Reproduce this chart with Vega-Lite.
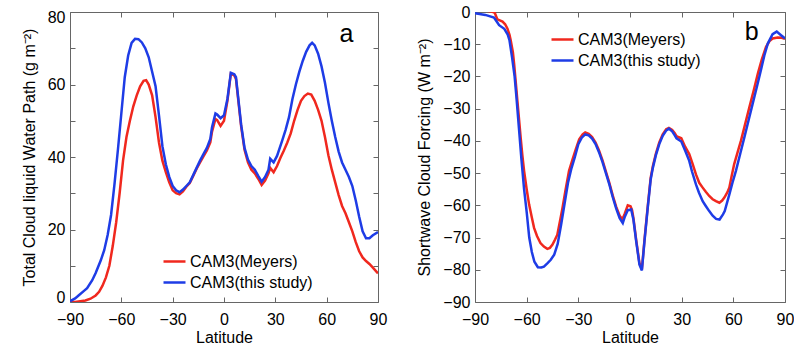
{
 "$schema": "https://vega.github.io/schema/vega-lite/v6.json",
 "padding": {"left": 20, "top": 3, "right": 0, "bottom": 0},
 "spacing": 28,
 "config": {
  "font": "Liberation Sans",
  "view": {"stroke": "#666", "strokeWidth": 1},
  "axis": {"grid": false, "domain": false, "tickColor": "#666", "tickSize": -5, "labelFontSize": 16, "titleFontSize": 16, "titleFontWeight": "normal", "labelColor": "#000", "titleColor": "#000", "labelPadding": 10, "labelFlush": false, "labelOverlap": false},
  "axisBottom": {"labelPadding": 14},
  "legend": {"orient": "none", "title": null, "symbolType": "stroke", "symbolSize": 484, "symbolStrokeWidth": 2.5, "labelFontSize": 16, "labelOffset": 3, "rowPadding": -8}
 },
 "resolve": {"scale": {"color": "independent"}, "legend": {"color": "independent"}},
 "hconcat": [
  {
   "width": 308, "height": 290,
   "layer": [
    {
     "data": {"values": [
      {"lat": -90, "v": 0, "s": "CAM3(Meyers)"},
      {"lat": -87, "v": 0, "s": "CAM3(Meyers)"},
      {"lat": -84, "v": 0.2, "s": "CAM3(Meyers)"},
      {"lat": -81, "v": 0.4, "s": "CAM3(Meyers)"},
      {"lat": -78, "v": 0.9, "s": "CAM3(Meyers)"},
      {"lat": -75, "v": 1.8, "s": "CAM3(Meyers)"},
      {"lat": -73, "v": 2.8, "s": "CAM3(Meyers)"},
      {"lat": -71, "v": 4.5, "s": "CAM3(Meyers)"},
      {"lat": -69, "v": 6.8, "s": "CAM3(Meyers)"},
      {"lat": -67, "v": 10, "s": "CAM3(Meyers)"},
      {"lat": -65, "v": 15.5, "s": "CAM3(Meyers)"},
      {"lat": -63, "v": 22, "s": "CAM3(Meyers)"},
      {"lat": -61, "v": 30, "s": "CAM3(Meyers)"},
      {"lat": -59, "v": 39, "s": "CAM3(Meyers)"},
      {"lat": -57, "v": 45.5, "s": "CAM3(Meyers)"},
      {"lat": -55, "v": 50, "s": "CAM3(Meyers)"},
      {"lat": -53, "v": 54, "s": "CAM3(Meyers)"},
      {"lat": -51, "v": 57, "s": "CAM3(Meyers)"},
      {"lat": -49, "v": 59.5, "s": "CAM3(Meyers)"},
      {"lat": -47, "v": 61, "s": "CAM3(Meyers)"},
      {"lat": -45.5, "v": 61.2, "s": "CAM3(Meyers)"},
      {"lat": -44, "v": 60, "s": "CAM3(Meyers)"},
      {"lat": -42, "v": 57, "s": "CAM3(Meyers)"},
      {"lat": -40, "v": 51, "s": "CAM3(Meyers)"},
      {"lat": -38, "v": 44, "s": "CAM3(Meyers)"},
      {"lat": -36, "v": 39, "s": "CAM3(Meyers)"},
      {"lat": -34, "v": 35.8, "s": "CAM3(Meyers)"},
      {"lat": -32, "v": 33, "s": "CAM3(Meyers)"},
      {"lat": -30, "v": 30.8, "s": "CAM3(Meyers)"},
      {"lat": -28, "v": 30, "s": "CAM3(Meyers)"},
      {"lat": -26, "v": 29.7, "s": "CAM3(Meyers)"},
      {"lat": -24, "v": 30.5, "s": "CAM3(Meyers)"},
      {"lat": -22, "v": 31.8, "s": "CAM3(Meyers)"},
      {"lat": -20, "v": 32.8, "s": "CAM3(Meyers)"},
      {"lat": -18, "v": 34.8, "s": "CAM3(Meyers)"},
      {"lat": -16, "v": 36.8, "s": "CAM3(Meyers)"},
      {"lat": -14, "v": 38.5, "s": "CAM3(Meyers)"},
      {"lat": -12, "v": 40.2, "s": "CAM3(Meyers)"},
      {"lat": -10, "v": 41.8, "s": "CAM3(Meyers)"},
      {"lat": -8, "v": 44, "s": "CAM3(Meyers)"},
      {"lat": -7, "v": 47, "s": "CAM3(Meyers)"},
      {"lat": -5, "v": 50.5, "s": "CAM3(Meyers)"},
      {"lat": -4, "v": 50.2, "s": "CAM3(Meyers)"},
      {"lat": -2, "v": 48.6, "s": "CAM3(Meyers)"},
      {"lat": 0, "v": 50, "s": "CAM3(Meyers)"},
      {"lat": 2, "v": 55.5, "s": "CAM3(Meyers)"},
      {"lat": 4, "v": 63, "s": "CAM3(Meyers)"},
      {"lat": 6, "v": 62.5, "s": "CAM3(Meyers)"},
      {"lat": 7, "v": 61.5, "s": "CAM3(Meyers)"},
      {"lat": 8.5, "v": 55, "s": "CAM3(Meyers)"},
      {"lat": 10, "v": 48.5, "s": "CAM3(Meyers)"},
      {"lat": 12, "v": 42, "s": "CAM3(Meyers)"},
      {"lat": 14, "v": 38.5, "s": "CAM3(Meyers)"},
      {"lat": 16, "v": 36.5, "s": "CAM3(Meyers)"},
      {"lat": 18, "v": 35.5, "s": "CAM3(Meyers)"},
      {"lat": 20, "v": 34, "s": "CAM3(Meyers)"},
      {"lat": 22, "v": 32.3, "s": "CAM3(Meyers)"},
      {"lat": 24, "v": 33.5, "s": "CAM3(Meyers)"},
      {"lat": 26, "v": 35.5, "s": "CAM3(Meyers)"},
      {"lat": 27, "v": 37, "s": "CAM3(Meyers)"},
      {"lat": 29, "v": 35.8, "s": "CAM3(Meyers)"},
      {"lat": 31, "v": 37.5, "s": "CAM3(Meyers)"},
      {"lat": 33, "v": 39.8, "s": "CAM3(Meyers)"},
      {"lat": 35, "v": 41.8, "s": "CAM3(Meyers)"},
      {"lat": 37, "v": 44, "s": "CAM3(Meyers)"},
      {"lat": 39, "v": 46.5, "s": "CAM3(Meyers)"},
      {"lat": 41, "v": 50, "s": "CAM3(Meyers)"},
      {"lat": 43, "v": 53, "s": "CAM3(Meyers)"},
      {"lat": 45, "v": 55.5, "s": "CAM3(Meyers)"},
      {"lat": 47, "v": 56.8, "s": "CAM3(Meyers)"},
      {"lat": 49, "v": 57.5, "s": "CAM3(Meyers)"},
      {"lat": 51, "v": 57.2, "s": "CAM3(Meyers)"},
      {"lat": 53, "v": 55.5, "s": "CAM3(Meyers)"},
      {"lat": 55, "v": 53, "s": "CAM3(Meyers)"},
      {"lat": 57, "v": 50, "s": "CAM3(Meyers)"},
      {"lat": 59, "v": 45.5, "s": "CAM3(Meyers)"},
      {"lat": 61, "v": 40.5, "s": "CAM3(Meyers)"},
      {"lat": 63, "v": 36.5, "s": "CAM3(Meyers)"},
      {"lat": 65, "v": 33, "s": "CAM3(Meyers)"},
      {"lat": 67, "v": 29.5, "s": "CAM3(Meyers)"},
      {"lat": 69, "v": 26.5, "s": "CAM3(Meyers)"},
      {"lat": 71, "v": 24.5, "s": "CAM3(Meyers)"},
      {"lat": 73, "v": 22, "s": "CAM3(Meyers)"},
      {"lat": 75, "v": 19.5, "s": "CAM3(Meyers)"},
      {"lat": 77, "v": 16.5, "s": "CAM3(Meyers)"},
      {"lat": 79, "v": 14, "s": "CAM3(Meyers)"},
      {"lat": 81, "v": 12.3, "s": "CAM3(Meyers)"},
      {"lat": 83, "v": 11.3, "s": "CAM3(Meyers)"},
      {"lat": 85, "v": 10.5, "s": "CAM3(Meyers)"},
      {"lat": 87, "v": 9.5, "s": "CAM3(Meyers)"},
      {"lat": 90, "v": 7.9, "s": "CAM3(Meyers)"},
      {"lat": -90, "v": 0.2, "s": "CAM3(this study)"},
      {"lat": -87, "v": 1, "s": "CAM3(this study)"},
      {"lat": -85, "v": 1.8, "s": "CAM3(this study)"},
      {"lat": -82, "v": 3, "s": "CAM3(this study)"},
      {"lat": -80, "v": 3.8, "s": "CAM3(this study)"},
      {"lat": -77, "v": 6, "s": "CAM3(this study)"},
      {"lat": -75, "v": 8, "s": "CAM3(this study)"},
      {"lat": -72, "v": 11.5, "s": "CAM3(this study)"},
      {"lat": -70, "v": 14.3, "s": "CAM3(this study)"},
      {"lat": -68, "v": 18.5, "s": "CAM3(this study)"},
      {"lat": -66, "v": 24, "s": "CAM3(this study)"},
      {"lat": -64, "v": 32.5, "s": "CAM3(this study)"},
      {"lat": -62, "v": 42, "s": "CAM3(this study)"},
      {"lat": -60, "v": 52, "s": "CAM3(this study)"},
      {"lat": -58, "v": 62, "s": "CAM3(this study)"},
      {"lat": -56, "v": 68, "s": "CAM3(this study)"},
      {"lat": -54, "v": 71.5, "s": "CAM3(this study)"},
      {"lat": -52, "v": 72.6, "s": "CAM3(this study)"},
      {"lat": -50, "v": 72.5, "s": "CAM3(this study)"},
      {"lat": -48, "v": 71.6, "s": "CAM3(this study)"},
      {"lat": -46, "v": 70, "s": "CAM3(this study)"},
      {"lat": -44, "v": 67.5, "s": "CAM3(this study)"},
      {"lat": -42, "v": 63.5, "s": "CAM3(this study)"},
      {"lat": -40, "v": 59.5, "s": "CAM3(this study)"},
      {"lat": -38, "v": 51.5, "s": "CAM3(this study)"},
      {"lat": -36, "v": 43, "s": "CAM3(this study)"},
      {"lat": -34, "v": 38, "s": "CAM3(this study)"},
      {"lat": -32, "v": 34.5, "s": "CAM3(this study)"},
      {"lat": -30, "v": 32, "s": "CAM3(this study)"},
      {"lat": -28, "v": 30.8, "s": "CAM3(this study)"},
      {"lat": -26, "v": 30.3, "s": "CAM3(this study)"},
      {"lat": -24, "v": 31, "s": "CAM3(this study)"},
      {"lat": -22, "v": 32, "s": "CAM3(this study)"},
      {"lat": -20, "v": 33, "s": "CAM3(this study)"},
      {"lat": -18, "v": 35, "s": "CAM3(this study)"},
      {"lat": -16, "v": 37, "s": "CAM3(this study)"},
      {"lat": -14, "v": 39, "s": "CAM3(this study)"},
      {"lat": -12, "v": 40.8, "s": "CAM3(this study)"},
      {"lat": -10, "v": 42.5, "s": "CAM3(this study)"},
      {"lat": -8, "v": 45, "s": "CAM3(this study)"},
      {"lat": -7, "v": 48.2, "s": "CAM3(this study)"},
      {"lat": -5, "v": 52, "s": "CAM3(this study)"},
      {"lat": -4, "v": 51.7, "s": "CAM3(this study)"},
      {"lat": -2, "v": 50.7, "s": "CAM3(this study)"},
      {"lat": 0, "v": 51.5, "s": "CAM3(this study)"},
      {"lat": 2, "v": 56, "s": "CAM3(this study)"},
      {"lat": 4, "v": 63.2, "s": "CAM3(this study)"},
      {"lat": 6, "v": 62.8, "s": "CAM3(this study)"},
      {"lat": 7, "v": 62, "s": "CAM3(this study)"},
      {"lat": 8.5, "v": 55.5, "s": "CAM3(this study)"},
      {"lat": 10, "v": 49, "s": "CAM3(this study)"},
      {"lat": 12, "v": 42.5, "s": "CAM3(this study)"},
      {"lat": 14, "v": 39.3, "s": "CAM3(this study)"},
      {"lat": 16, "v": 37.5, "s": "CAM3(this study)"},
      {"lat": 18, "v": 36.5, "s": "CAM3(this study)"},
      {"lat": 20, "v": 34.8, "s": "CAM3(this study)"},
      {"lat": 22, "v": 33.2, "s": "CAM3(this study)"},
      {"lat": 24, "v": 34.5, "s": "CAM3(this study)"},
      {"lat": 26, "v": 36.5, "s": "CAM3(this study)"},
      {"lat": 27, "v": 39.5, "s": "CAM3(this study)"},
      {"lat": 29, "v": 38.5, "s": "CAM3(this study)"},
      {"lat": 31, "v": 40.3, "s": "CAM3(this study)"},
      {"lat": 34, "v": 44.5, "s": "CAM3(this study)"},
      {"lat": 36, "v": 47.5, "s": "CAM3(this study)"},
      {"lat": 38, "v": 51, "s": "CAM3(this study)"},
      {"lat": 40, "v": 56, "s": "CAM3(this study)"},
      {"lat": 42, "v": 60, "s": "CAM3(this study)"},
      {"lat": 44, "v": 63.5, "s": "CAM3(this study)"},
      {"lat": 46, "v": 66.5, "s": "CAM3(this study)"},
      {"lat": 48, "v": 69, "s": "CAM3(this study)"},
      {"lat": 50, "v": 70.8, "s": "CAM3(this study)"},
      {"lat": 51.5, "v": 71.5, "s": "CAM3(this study)"},
      {"lat": 53, "v": 70.8, "s": "CAM3(this study)"},
      {"lat": 55, "v": 68.5, "s": "CAM3(this study)"},
      {"lat": 57, "v": 65, "s": "CAM3(this study)"},
      {"lat": 59, "v": 60.5, "s": "CAM3(this study)"},
      {"lat": 61, "v": 55, "s": "CAM3(this study)"},
      {"lat": 63, "v": 50, "s": "CAM3(this study)"},
      {"lat": 65, "v": 45.5, "s": "CAM3(this study)"},
      {"lat": 67, "v": 41.5, "s": "CAM3(this study)"},
      {"lat": 69, "v": 38.5, "s": "CAM3(this study)"},
      {"lat": 71, "v": 36.5, "s": "CAM3(this study)"},
      {"lat": 73, "v": 34.5, "s": "CAM3(this study)"},
      {"lat": 75, "v": 32, "s": "CAM3(this study)"},
      {"lat": 77, "v": 28, "s": "CAM3(this study)"},
      {"lat": 79, "v": 23.5, "s": "CAM3(this study)"},
      {"lat": 81, "v": 19.5, "s": "CAM3(this study)"},
      {"lat": 83, "v": 17.6, "s": "CAM3(this study)"},
      {"lat": 85, "v": 17.6, "s": "CAM3(this study)"},
      {"lat": 87, "v": 18.4, "s": "CAM3(this study)"},
      {"lat": 90, "v": 19.3, "s": "CAM3(this study)"}
     ]},
     "mark": {"type": "line", "strokeWidth": 2.5, "clip": true},
     "encoding": {
      "x": {"field": "lat", "type": "quantitative", "scale": {"domain": [-90, 90], "nice": false}, "axis": {"values": [-90, -60, -30, 0, 30, 60, 90], "title": "Latitude", "titlePadding": 2}},
      "y": {"field": "v", "type": "quantitative", "scale": {"domain": [0, 80], "nice": false}, "axis": {"values": [0, 10, 20, 30, 40, 50, 60, 70, 80], "labelExpr": "datum.value % 20 === 0 ? datum.label : ''", "labelFlush": true, "labelFlushOffset": 3, "title": "Total Cloud liquid Water Path (g m⁻²)", "titlePadding": 10}},
      "color": {"field": "s", "type": "nominal", "scale": {"domain": ["CAM3(Meyers)", "CAM3(this study)"], "range": ["#f0281e", "#1e3ce6"]}, "legend": {"legendX": 92, "legendY": 237}}
     }
    },
    {
     "data": {"values": [{"t": "a"}]},
     "mark": {"type": "text", "fontSize": 25, "align": "center", "baseline": "middle"},
     "encoding": {
      "x": {"datum": 71.5, "type": "quantitative", "scale": {"domain": [-90, 90], "nice": false}, "axis": {"orient": "top", "labels": false, "title": null, "values": [-90, -60, -30, 0, 30, 60, 90]}},
      "y": {"datum": 74, "type": "quantitative", "scale": {"domain": [0, 80], "nice": false}, "axis": {"orient": "right", "labels": false, "title": null, "values": [0, 10, 20, 30, 40, 50, 60, 70, 80]}},
      "text": {"field": "t"}
     }
    }
   ],
   "resolve": {"axis": {"x": "independent", "y": "independent"}}
  },
  {
   "width": 310, "height": 290,
   "layer": [
    {
     "data": {"values": [
      {"lat": -90, "v": 0.5, "s": "CAM3(Meyers)"},
      {"lat": -84, "v": 0.5, "s": "CAM3(Meyers)"},
      {"lat": -79.5, "v": 0, "s": "CAM3(Meyers)"},
      {"lat": -78.5, "v": -0.3, "s": "CAM3(Meyers)"},
      {"lat": -77, "v": -2.3, "s": "CAM3(Meyers)"},
      {"lat": -74, "v": -3, "s": "CAM3(Meyers)"},
      {"lat": -72.5, "v": -3.8, "s": "CAM3(Meyers)"},
      {"lat": -71.2, "v": -5.1, "s": "CAM3(Meyers)"},
      {"lat": -70, "v": -7, "s": "CAM3(Meyers)"},
      {"lat": -69.3, "v": -8.7, "s": "CAM3(Meyers)"},
      {"lat": -68, "v": -12.5, "s": "CAM3(Meyers)"},
      {"lat": -67.3, "v": -16, "s": "CAM3(Meyers)"},
      {"lat": -66.3, "v": -22, "s": "CAM3(Meyers)"},
      {"lat": -65.4, "v": -27.5, "s": "CAM3(Meyers)"},
      {"lat": -64.4, "v": -33.5, "s": "CAM3(Meyers)"},
      {"lat": -63.5, "v": -38.9, "s": "CAM3(Meyers)"},
      {"lat": -62.5, "v": -44.5, "s": "CAM3(Meyers)"},
      {"lat": -61.5, "v": -49.3, "s": "CAM3(Meyers)"},
      {"lat": -60, "v": -55, "s": "CAM3(Meyers)"},
      {"lat": -58.6, "v": -59.7, "s": "CAM3(Meyers)"},
      {"lat": -57, "v": -63.8, "s": "CAM3(Meyers)"},
      {"lat": -55.7, "v": -67, "s": "CAM3(Meyers)"},
      {"lat": -54, "v": -69.5, "s": "CAM3(Meyers)"},
      {"lat": -52, "v": -71.7, "s": "CAM3(Meyers)"},
      {"lat": -50, "v": -72.8, "s": "CAM3(Meyers)"},
      {"lat": -48, "v": -73.5, "s": "CAM3(Meyers)"},
      {"lat": -46.5, "v": -73.2, "s": "CAM3(Meyers)"},
      {"lat": -45, "v": -72.2, "s": "CAM3(Meyers)"},
      {"lat": -43.5, "v": -70.6, "s": "CAM3(Meyers)"},
      {"lat": -42.2, "v": -69.1, "s": "CAM3(Meyers)"},
      {"lat": -40.5, "v": -64.5, "s": "CAM3(Meyers)"},
      {"lat": -39.2, "v": -60.8, "s": "CAM3(Meyers)"},
      {"lat": -37.5, "v": -55.5, "s": "CAM3(Meyers)"},
      {"lat": -35.4, "v": -49.3, "s": "CAM3(Meyers)"},
      {"lat": -33.5, "v": -46, "s": "CAM3(Meyers)"},
      {"lat": -31.5, "v": -42.6, "s": "CAM3(Meyers)"},
      {"lat": -29.5, "v": -39.5, "s": "CAM3(Meyers)"},
      {"lat": -27.5, "v": -38, "s": "CAM3(Meyers)"},
      {"lat": -26, "v": -37.4, "s": "CAM3(Meyers)"},
      {"lat": -24, "v": -37.8, "s": "CAM3(Meyers)"},
      {"lat": -22, "v": -38.8, "s": "CAM3(Meyers)"},
      {"lat": -20, "v": -40.5, "s": "CAM3(Meyers)"},
      {"lat": -18, "v": -43, "s": "CAM3(Meyers)"},
      {"lat": -16, "v": -46, "s": "CAM3(Meyers)"},
      {"lat": -14, "v": -49.5, "s": "CAM3(Meyers)"},
      {"lat": -12, "v": -53, "s": "CAM3(Meyers)"},
      {"lat": -10, "v": -57, "s": "CAM3(Meyers)"},
      {"lat": -8, "v": -60.5, "s": "CAM3(Meyers)"},
      {"lat": -6, "v": -63.2, "s": "CAM3(Meyers)"},
      {"lat": -4.4, "v": -64.3, "s": "CAM3(Meyers)"},
      {"lat": -3, "v": -62.5, "s": "CAM3(Meyers)"},
      {"lat": -1.3, "v": -60, "s": "CAM3(Meyers)"},
      {"lat": 0.3, "v": -60.3, "s": "CAM3(Meyers)"},
      {"lat": 1.2, "v": -61.5, "s": "CAM3(Meyers)"},
      {"lat": 2, "v": -64, "s": "CAM3(Meyers)"},
      {"lat": 3.6, "v": -70.8, "s": "CAM3(Meyers)"},
      {"lat": 5.5, "v": -78, "s": "CAM3(Meyers)"},
      {"lat": 6.9, "v": -79.8, "s": "CAM3(Meyers)"},
      {"lat": 8.4, "v": -70.8, "s": "CAM3(Meyers)"},
      {"lat": 10.3, "v": -60.3, "s": "CAM3(Meyers)"},
      {"lat": 12, "v": -51.5, "s": "CAM3(Meyers)"},
      {"lat": 13.3, "v": -47.8, "s": "CAM3(Meyers)"},
      {"lat": 15, "v": -44, "s": "CAM3(Meyers)"},
      {"lat": 17, "v": -40.5, "s": "CAM3(Meyers)"},
      {"lat": 19, "v": -38, "s": "CAM3(Meyers)"},
      {"lat": 21, "v": -36.4, "s": "CAM3(Meyers)"},
      {"lat": 22.6, "v": -36, "s": "CAM3(Meyers)"},
      {"lat": 24.5, "v": -36.6, "s": "CAM3(Meyers)"},
      {"lat": 26, "v": -37.6, "s": "CAM3(Meyers)"},
      {"lat": 27, "v": -38.5, "s": "CAM3(Meyers)"},
      {"lat": 28, "v": -38.8, "s": "CAM3(Meyers)"},
      {"lat": 29.8, "v": -39.2, "s": "CAM3(Meyers)"},
      {"lat": 32, "v": -41.8, "s": "CAM3(Meyers)"},
      {"lat": 34.4, "v": -44.1, "s": "CAM3(Meyers)"},
      {"lat": 36.4, "v": -47.2, "s": "CAM3(Meyers)"},
      {"lat": 38.3, "v": -50.4, "s": "CAM3(Meyers)"},
      {"lat": 40.2, "v": -53, "s": "CAM3(Meyers)"},
      {"lat": 42.2, "v": -54.5, "s": "CAM3(Meyers)"},
      {"lat": 44, "v": -55.8, "s": "CAM3(Meyers)"},
      {"lat": 46, "v": -57.1, "s": "CAM3(Meyers)"},
      {"lat": 48, "v": -58.1, "s": "CAM3(Meyers)"},
      {"lat": 49.9, "v": -58.7, "s": "CAM3(Meyers)"},
      {"lat": 51.9, "v": -59.2, "s": "CAM3(Meyers)"},
      {"lat": 53.5, "v": -58.5, "s": "CAM3(Meyers)"},
      {"lat": 54.8, "v": -57.6, "s": "CAM3(Meyers)"},
      {"lat": 56.5, "v": -56, "s": "CAM3(Meyers)"},
      {"lat": 57.7, "v": -54.5, "s": "CAM3(Meyers)"},
      {"lat": 59, "v": -51, "s": "CAM3(Meyers)"},
      {"lat": 60.5, "v": -47.2, "s": "CAM3(Meyers)"},
      {"lat": 62.5, "v": -43.5, "s": "CAM3(Meyers)"},
      {"lat": 64.4, "v": -40, "s": "CAM3(Meyers)"},
      {"lat": 67, "v": -34.5, "s": "CAM3(Meyers)"},
      {"lat": 69.3, "v": -29.6, "s": "CAM3(Meyers)"},
      {"lat": 72, "v": -24, "s": "CAM3(Meyers)"},
      {"lat": 74.2, "v": -19.2, "s": "CAM3(Meyers)"},
      {"lat": 76.5, "v": -14.8, "s": "CAM3(Meyers)"},
      {"lat": 79, "v": -10.8, "s": "CAM3(Meyers)"},
      {"lat": 81, "v": -9, "s": "CAM3(Meyers)"},
      {"lat": 82.8, "v": -8.2, "s": "CAM3(Meyers)"},
      {"lat": 85.8, "v": -7.9, "s": "CAM3(Meyers)"},
      {"lat": 88, "v": -8, "s": "CAM3(Meyers)"},
      {"lat": 90, "v": -8.3, "s": "CAM3(Meyers)"},
      {"lat": -90, "v": -0.4, "s": "CAM3(this study)"},
      {"lat": -84, "v": -0.9, "s": "CAM3(this study)"},
      {"lat": -79, "v": -1.7, "s": "CAM3(this study)"},
      {"lat": -78, "v": -2.5, "s": "CAM3(this study)"},
      {"lat": -76, "v": -4.1, "s": "CAM3(this study)"},
      {"lat": -73, "v": -5.2, "s": "CAM3(this study)"},
      {"lat": -71, "v": -7, "s": "CAM3(this study)"},
      {"lat": -70, "v": -8.7, "s": "CAM3(this study)"},
      {"lat": -68.5, "v": -14, "s": "CAM3(this study)"},
      {"lat": -67, "v": -20, "s": "CAM3(this study)"},
      {"lat": -66, "v": -26, "s": "CAM3(this study)"},
      {"lat": -64.5, "v": -36, "s": "CAM3(this study)"},
      {"lat": -63, "v": -46, "s": "CAM3(this study)"},
      {"lat": -61.5, "v": -55, "s": "CAM3(this study)"},
      {"lat": -60, "v": -62, "s": "CAM3(this study)"},
      {"lat": -58.5, "v": -70, "s": "CAM3(this study)"},
      {"lat": -57, "v": -74.5, "s": "CAM3(this study)"},
      {"lat": -55.5, "v": -77.5, "s": "CAM3(this study)"},
      {"lat": -53.5, "v": -79.2, "s": "CAM3(this study)"},
      {"lat": -51.5, "v": -79.3, "s": "CAM3(this study)"},
      {"lat": -50, "v": -79, "s": "CAM3(this study)"},
      {"lat": -48, "v": -78, "s": "CAM3(this study)"},
      {"lat": -46, "v": -76.9, "s": "CAM3(this study)"},
      {"lat": -44, "v": -75.3, "s": "CAM3(this study)"},
      {"lat": -42, "v": -72, "s": "CAM3(this study)"},
      {"lat": -40, "v": -66, "s": "CAM3(this study)"},
      {"lat": -38, "v": -59.5, "s": "CAM3(this study)"},
      {"lat": -36, "v": -53, "s": "CAM3(this study)"},
      {"lat": -34, "v": -48.5, "s": "CAM3(this study)"},
      {"lat": -32, "v": -45, "s": "CAM3(this study)"},
      {"lat": -30, "v": -41, "s": "CAM3(this study)"},
      {"lat": -28, "v": -39, "s": "CAM3(this study)"},
      {"lat": -26, "v": -38, "s": "CAM3(this study)"},
      {"lat": -24, "v": -38.3, "s": "CAM3(this study)"},
      {"lat": -22, "v": -39.3, "s": "CAM3(this study)"},
      {"lat": -20, "v": -41, "s": "CAM3(this study)"},
      {"lat": -18, "v": -43.5, "s": "CAM3(this study)"},
      {"lat": -16, "v": -46.5, "s": "CAM3(this study)"},
      {"lat": -14, "v": -50, "s": "CAM3(this study)"},
      {"lat": -12, "v": -53.5, "s": "CAM3(this study)"},
      {"lat": -10, "v": -57.5, "s": "CAM3(this study)"},
      {"lat": -8, "v": -61, "s": "CAM3(this study)"},
      {"lat": -6, "v": -64, "s": "CAM3(this study)"},
      {"lat": -4.2, "v": -65.5, "s": "CAM3(this study)"},
      {"lat": -3, "v": -63.5, "s": "CAM3(this study)"},
      {"lat": -1.3, "v": -61.5, "s": "CAM3(this study)"},
      {"lat": 0.7, "v": -61.3, "s": "CAM3(this study)"},
      {"lat": 2, "v": -64.5, "s": "CAM3(this study)"},
      {"lat": 3.6, "v": -71.2, "s": "CAM3(this study)"},
      {"lat": 5.5, "v": -78.4, "s": "CAM3(this study)"},
      {"lat": 6.9, "v": -80.2, "s": "CAM3(this study)"},
      {"lat": 8.4, "v": -71.2, "s": "CAM3(this study)"},
      {"lat": 10.3, "v": -60.8, "s": "CAM3(this study)"},
      {"lat": 12, "v": -52, "s": "CAM3(this study)"},
      {"lat": 13.3, "v": -48.3, "s": "CAM3(this study)"},
      {"lat": 15, "v": -44.5, "s": "CAM3(this study)"},
      {"lat": 17, "v": -41, "s": "CAM3(this study)"},
      {"lat": 19, "v": -38.4, "s": "CAM3(this study)"},
      {"lat": 21, "v": -36.8, "s": "CAM3(this study)"},
      {"lat": 22.6, "v": -36.2, "s": "CAM3(this study)"},
      {"lat": 24.5, "v": -37, "s": "CAM3(this study)"},
      {"lat": 26, "v": -38.3, "s": "CAM3(this study)"},
      {"lat": 27, "v": -39.2, "s": "CAM3(this study)"},
      {"lat": 29.8, "v": -40.2, "s": "CAM3(this study)"},
      {"lat": 32, "v": -43, "s": "CAM3(this study)"},
      {"lat": 34.4, "v": -46.2, "s": "CAM3(this study)"},
      {"lat": 36, "v": -49.5, "s": "CAM3(this study)"},
      {"lat": 38.3, "v": -53.5, "s": "CAM3(this study)"},
      {"lat": 40, "v": -56, "s": "CAM3(this study)"},
      {"lat": 42.2, "v": -58.7, "s": "CAM3(this study)"},
      {"lat": 44, "v": -60.2, "s": "CAM3(this study)"},
      {"lat": 46, "v": -61.8, "s": "CAM3(this study)"},
      {"lat": 48, "v": -63.2, "s": "CAM3(this study)"},
      {"lat": 50, "v": -64.2, "s": "CAM3(this study)"},
      {"lat": 52, "v": -64.4, "s": "CAM3(this study)"},
      {"lat": 54, "v": -62.8, "s": "CAM3(this study)"},
      {"lat": 55, "v": -61.8, "s": "CAM3(this study)"},
      {"lat": 57.7, "v": -56.6, "s": "CAM3(this study)"},
      {"lat": 59.5, "v": -53, "s": "CAM3(this study)"},
      {"lat": 61.5, "v": -49.3, "s": "CAM3(this study)"},
      {"lat": 64, "v": -44, "s": "CAM3(this study)"},
      {"lat": 66.4, "v": -38.9, "s": "CAM3(this study)"},
      {"lat": 69, "v": -33.3, "s": "CAM3(this study)"},
      {"lat": 71.2, "v": -28.5, "s": "CAM3(this study)"},
      {"lat": 74, "v": -22.5, "s": "CAM3(this study)"},
      {"lat": 76, "v": -18.1, "s": "CAM3(this study)"},
      {"lat": 78, "v": -13.5, "s": "CAM3(this study)"},
      {"lat": 80, "v": -9.8, "s": "CAM3(this study)"},
      {"lat": 82.8, "v": -6.9, "s": "CAM3(this study)"},
      {"lat": 85.2, "v": -6.1, "s": "CAM3(this study)"},
      {"lat": 87.7, "v": -7.2, "s": "CAM3(this study)"},
      {"lat": 90, "v": -8.2, "s": "CAM3(this study)"}
     ]},
     "mark": {"type": "line", "strokeWidth": 2.5, "clip": true},
     "encoding": {
      "x": {"field": "lat", "type": "quantitative", "scale": {"domain": [-90, 90], "nice": false}, "axis": {"values": [-90, -60, -30, 0, 30, 60, 90], "title": "Latitude", "titlePadding": 2}},
      "y": {"field": "v", "type": "quantitative", "scale": {"domain": [-90, 0], "nice": false}, "axis": {"values": [-90, -80, -70, -60, -50, -40, -30, -20, -10, 0], "title": "Shortwave Cloud Forcing (W m⁻²)", "titlePadding": 10}},
      "color": {"field": "s", "type": "nominal", "scale": {"domain": ["CAM3(Meyers)", "CAM3(this study)"], "range": ["#f0281e", "#1e3ce6"]}, "legend": {"legendX": 75, "legendY": 15}}
     }
    },
    {
     "data": {"values": [{"t": "b"}]},
     "mark": {"type": "text", "fontSize": 25, "align": "center", "baseline": "middle"},
     "encoding": {
      "x": {"datum": 70.6, "type": "quantitative", "scale": {"domain": [-90, 90], "nice": false}, "axis": {"orient": "top", "labels": false, "title": null, "values": [-90, -60, -30, 0, 30, 60, 90]}},
      "y": {"datum": -6.1, "type": "quantitative", "scale": {"domain": [-90, 0], "nice": false}, "axis": {"orient": "right", "labels": false, "title": null, "values": [-90, -80, -70, -60, -50, -40, -30, -20, -10, 0]}},
      "text": {"field": "t"}
     }
    }
   ],
   "resolve": {"axis": {"x": "independent", "y": "independent"}}
  }
 ]
}
